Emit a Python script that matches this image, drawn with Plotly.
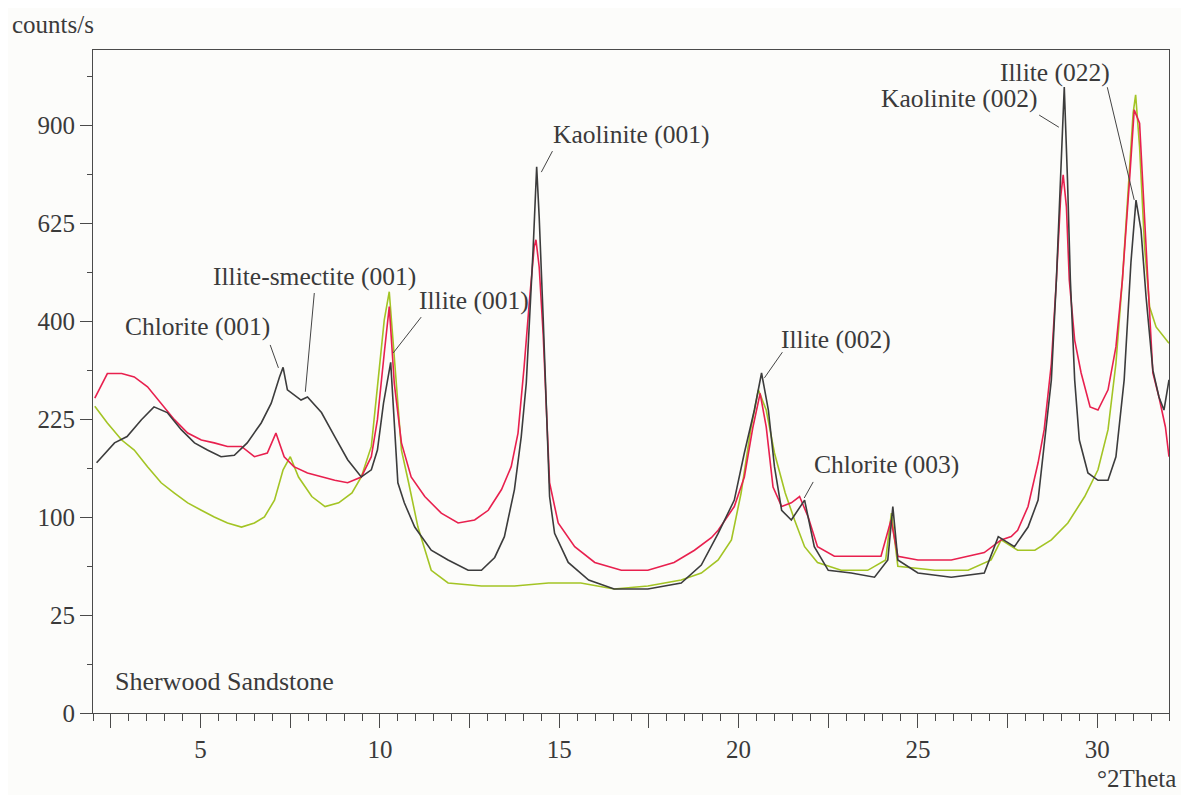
import numpy as np
import plotly.graph_objects as go

# ---------------- data, counts/s vs degrees 2-theta ----------------
theta_black = [2.1, 2.6, 2.95, 3.35, 3.7, 4.07, 4.46, 4.83, 5.19, 5.57, 5.94, 6.3, 6.69, 6.97,
               7.2, 7.3, 7.42, 7.8, 7.98, 8.37, 8.74, 9.1, 9.48, 9.76, 9.93, 10.1, 10.3, 10.4,
               10.5, 10.68, 10.97, 11.43, 11.9, 12.46, 12.83, 13.2, 13.47, 13.75, 13.94, 14.08,
               14.17, 14.27, 14.37, 14.44, 14.55, 14.64, 14.73, 14.87, 15.25, 15.82, 16.53,
               17.47, 18.4, 18.96, 19.43, 19.88, 20.16, 20.44, 20.64, 20.83, 21.0, 21.2, 21.47,
               21.84, 22.11, 22.5, 23.14, 23.79, 24.16, 24.3, 24.44, 25.0, 25.93, 26.85, 27.24,
               27.69, 28.07, 28.35, 28.52, 28.72, 28.86, 28.98, 29.08, 29.17, 29.25, 29.37,
               29.5, 29.74, 30.02, 30.3, 30.52, 30.75, 30.94, 31.08, 31.22, 31.36, 31.55,
               31.72, 31.86, 32.0]
counts_black = [163, 190, 199, 224, 244, 235, 209, 190, 180, 171, 173, 190, 219, 250,
                294, 311, 272, 255, 260, 235, 199, 167, 145, 154, 180, 250, 320, 228,
                138, 115, 90, 69, 61, 53, 53, 63, 81, 130, 199, 283,
                396, 558, 777, 641, 409, 228, 122, 84, 59, 46, 40,
                40, 44, 57, 84, 118, 176, 239, 301, 239, 158, 107, 97,
                118, 72, 53, 51, 48, 61, 111, 61, 51, 48, 51, 81,
                72, 90, 118, 185, 289, 488, 740, 1020, 740, 488, 289,
                194, 150, 141, 141, 171, 289, 530, 685, 607, 451, 306,
                260, 239, 289]

theta_red = [2.05, 2.4, 2.8, 3.15, 3.52, 3.9, 4.27, 4.64, 5.02, 5.38, 5.75, 6.14, 6.5, 6.86,
             7.1, 7.33, 7.6, 7.98, 8.37, 8.74, 9.1, 9.48, 9.76, 9.93, 10.12, 10.26, 10.4,
             10.6, 10.87, 11.25, 11.71, 12.18, 12.64, 13.02, 13.39, 13.66, 13.85, 14.02,
             14.17, 14.3, 14.35, 14.44, 14.55, 14.64, 14.73, 14.97, 15.43, 15.99, 16.73,
             17.47, 18.2, 18.77, 19.24, 19.43, 19.88, 20.16, 20.4, 20.6, 20.77, 20.96, 21.2,
             21.47, 21.7, 21.94, 22.2, 22.67, 23.32, 23.97, 24.25, 24.44, 25.0, 25.93, 26.85,
             27.32, 27.6, 27.78, 28.07, 28.35, 28.52, 28.72, 28.86, 28.98, 29.05, 29.14,
             29.22, 29.37, 29.55, 29.8, 30.02, 30.3, 30.52, 30.7, 30.9, 31.03, 31.18, 31.27,
             31.41, 31.55, 31.72, 31.9, 32.0]
counts_red = [258, 300, 300, 294, 277, 250, 224, 204, 194, 190, 185, 185, 171, 176,
              204, 171, 158, 150, 145, 141, 138, 145, 171, 224, 337, 430, 283,
              190, 145, 122, 104, 94, 97, 107, 130, 158, 204, 312,
              444, 565, 583, 518, 375, 228, 138, 94, 72, 59, 53,
              53, 59, 69, 80, 87, 111, 145, 213, 266, 213, 133, 111,
              115, 122, 100, 72, 64, 64, 64, 97, 64, 61, 61, 67,
              78, 81, 87, 111, 163, 209, 318, 488, 694, 754, 667,
              488, 362, 301, 244, 239, 272, 349, 488, 740, 947, 906, 740,
              488, 301, 260, 213, 171]

theta_green = [2.05, 2.4, 2.8, 3.15, 3.52, 3.9, 4.27, 4.64, 5.02, 5.38, 5.75, 6.14, 6.5, 6.78,
               7.06, 7.3, 7.5, 7.73, 8.1, 8.47, 8.85, 9.22, 9.48, 9.76, 9.93, 10.12, 10.26,
               10.38, 10.5, 10.6, 10.8, 11.06, 11.43, 11.9, 12.83, 13.75, 14.7, 15.6, 16.53,
               17.47, 18.4, 18.96, 19.43, 19.8, 20.07, 20.35, 20.55, 20.77, 21.0, 21.3, 21.56,
               21.84, 22.2, 22.86, 23.6, 24.1, 24.26, 24.44, 25.47, 26.4, 27.04, 27.32, 27.78,
               28.26, 28.72, 29.18, 29.65, 30.02, 30.3, 30.52, 30.7, 30.86, 31.0, 31.07, 31.18,
               31.32, 31.46, 31.64, 31.86, 32.0]
counts_green = [245, 219, 194, 180, 158, 138, 126, 115, 107, 100, 94, 90, 94, 100,
                118, 154, 171, 145, 122, 111, 115, 126, 145, 185, 277, 402, 462,
                343, 255, 180, 138, 90, 53, 44, 42, 42, 44, 44, 40,
                42, 46, 51, 61, 78, 126, 213, 272, 239, 176, 126, 97,
                72, 59, 53, 53, 61, 104, 56, 53, 53, 61, 78, 69,
                69, 78, 94, 122, 154, 209, 318, 488, 694, 937, 995, 834,
                565, 429, 388, 368, 356]

ytick_counts = [0, 25, 100, 225, 400, 625, 900]
xtick_vals = [2.5, 5, 7.5, 10, 12.5, 15, 17.5, 20, 22.5, 25, 27.5, 30]
xtick_text = ["", "5", "", "10", "", "15", "", "20", "", "25", "", "30"]

# peak labels: text, text position (deg, sqrt-count), leader line start/end (deg, sqrt-count)
peak_labels = ["Chlorite (001)", "Illite-smectite (001)", "Illite (001)", "Kaolinite (001)",
               "Illite (002)", "Chlorite (003)", "Kaolinite (002)", "Illite (022)"]
label_pos = [(4.91, 19.70), (8.17, 22.25), (12.63, 21.07), (17.01, 29.54),
             (22.72, 19.04), (24.13, 12.66), (26.17, 31.38), (28.81, 32.70)]
leader_lines = [((6.94, 18.78), (7.17, 17.61)), ((8.17, 21.43), (7.92, 16.39)),
                ((11.15, 20.20), (10.37, 18.37)), ((14.81, 28.67), (14.50, 27.60)),
                ((21.22, 18.41), (20.72, 17.10)), ((22.08, 11.79), (21.83, 10.97)),
                ((28.38, 30.51), (28.93, 29.89)), ((30.28, 31.93), (31.03, 26.18))]

# ---------------- figure ----------------
FONT = "Liberation Serif"
TXT = "#3a3a3a"
AX = "#4a4a4a"

fig = go.Figure()
series = [(theta_green, counts_green, "#a3c424", "green"),
          (theta_red, counts_red, "#e8204e", "red"),
          (theta_black, counts_black, "#3c3c3c", "black")]
for tx, cy, col, nm in series:
    fig.add_trace(go.Scatter(x=tx, y=np.sqrt(np.array(cy, dtype=float)), mode="lines",
                             line=dict(color=col, width=1.6), name=nm, showlegend=False))

for txt, (lx, ly) in zip(peak_labels, label_pos):
    fig.add_annotation(x=lx, y=ly, text=txt, showarrow=False, xanchor="center", yanchor="middle",
                       font=dict(family=FONT, size=25.5, color=TXT))
for (p0, p1) in leader_lines:
    fig.add_shape(type="line", x0=p0[0], y0=p0[1], x1=p1[0], y1=p1[1], xref="x", yref="y",
                  line=dict(color="#444444", width=1))

fig.add_annotation(x=2.57, y=1.60, text="Sherwood Sandstone", showarrow=False, xanchor="left",
                   yanchor="middle", font=dict(family=FONT, size=26, color=TXT))
fig.add_annotation(x=-0.077, y=1.0625, xref="paper", yref="paper", text="counts/s", showarrow=False,
                   xanchor="left", yanchor="top", font=dict(family=FONT, size=25, color=TXT))
fig.add_annotation(x=1.0084, y=-0.0995, xref="paper", yref="paper", text="°2Theta", showarrow=False,
                   xanchor="right", yanchor="middle", font=dict(family=FONT, size=25, color=TXT))

fig.update_xaxes(range=[2, 32], showgrid=False, zeroline=False, showline=True, mirror=True,
                 linecolor=AX, linewidth=1, ticks="outside", ticklen=14, tickcolor=AX,
                 tickvals=xtick_vals, ticktext=xtick_text,
                 tickfont=dict(family=FONT, size=25, color=TXT),
                 minor=dict(dtick=0.5, tick0=0, ticks="outside", ticklen=7, tickcolor=AX, showgrid=False))
fig.update_yaxes(range=[0, 33.83], showgrid=False, zeroline=False, showline=True, mirror=True,
                 linecolor=AX, linewidth=1, ticks="outside", ticklen=12, tickcolor=AX,
                 tickvals=list(np.sqrt(ytick_counts)), ticktext=[str(v) for v in ytick_counts],
                 tickfont=dict(family=FONT, size=25, color=TXT),
                 minor=dict(tickmode="array", tickvals=[2.5, 7.5, 12.5, 17.5, 22.5, 27.5, 32.5],
                            ticks="outside", ticklen=5, tickcolor=AX, showgrid=False))

# the page body adds an 8 px offset, so the figure is 8 px smaller and margins shifted
fig.update_layout(width=1181, height=787, margin=dict(l=85, r=20, t=42, b=82),
                  paper_bgcolor="#fcfcfa", plot_bgcolor="#fcfcfa")
fig.write_html("out.html")
